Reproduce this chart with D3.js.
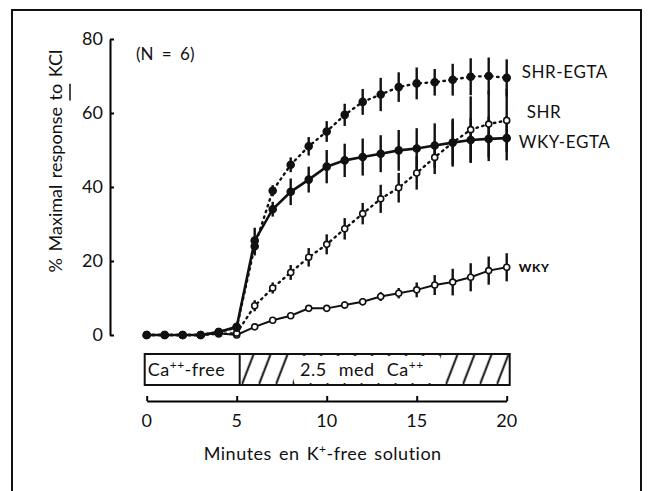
<!DOCTYPE html>
<html>
<head>
<meta charset="UTF-8">
<title>Minutes en K+-free solution</title>
<script src="https://cdn.jsdelivr.net/npm/d3@7"></script>
<style>
body { margin: 0; background: #fff; }
text { font-family: "Lato", "DejaVu Sans", sans-serif; fill: #111; }
</style>
</head>
<body>
<script>
// data
var minutes = [0,1,2,3,4,5,6,7,8,9,10,11,12,13,14,15,16,17,18,19,20];
var shrEgta    = [0,0,0,0,0.8,2,24,39,46,51,55,59.5,63,65,67,68,68.3,69,69.8,70,69.5];
var shrEgtaErr = [0,0,0,0,0,0,2.5,1.5,2,2.5,2.8,3,3.5,4.5,4,4.3,3.6,4.3,5,5,5];
var shr        = [0,0,0,0,0.3,0.5,7.9,12.7,16.9,21,24.5,28.7,32.8,36.8,39.8,43.8,48,52,55.5,57,58];
var shrErr     = [0,0,0,0,0,0,1.5,1.5,2,2.5,2.7,2.9,2.9,3.8,4,4.5,4.5,6,9,9,8.5];
var wkyEgta    = [0,0,0,0,0.8,2.2,25.5,34,38.7,42,45.5,47.2,48.1,49,49.9,50.4,51.2,52,52.7,53,53.2];
var wkyEgtaErr = [0,0,0,0,0,0,3.5,2,3.6,3.5,4.5,4.5,5,5,5.5,5.5,6,6.5,6,6,6];
var wky        = [0,0,0,0,0.5,0,2.2,4,5.2,7.2,7.2,8.1,9,10.4,11.3,12.2,13.5,14.3,15.6,17.4,18.3];
var wkyErr     = [0,0,0,0,0,0,0,0,0.5,0.8,0.8,1,1,1.2,1.4,2,2.7,3.6,3.8,3.8,3.8];
var yTicks = [0, 20, 40, 60, 80];
var xTicks = [0, 5, 10, 15, 20];

var Width = 651, Height = 491;
var svg = d3.select("body").append("svg")
    .attr("width", Width)
    .attr("height", Height);

var x = d3.scaleLinear().domain([0, 20]).range([146.7, 506.7]);
var y = d3.scaleLinear().domain([0, 80]).range([335, 39]);

// frame round the figure
svg.append("path")
    .attr("d", "M12,491 L12,10 L641,10 L641,491")
    .attr("fill", "none").attr("stroke", "#111").attr("stroke-width", 2);

// y axis, ticks point inward
var yAxis = svg.append("g")
    .attr("transform", "translate(110,0)")
    .call(d3.axisLeft(y).tickValues(yTicks).tickSize(-4).tickSizeOuter(0).tickPadding(7));
yAxis.select(".domain").attr("stroke-width", 2);
yAxis.selectAll("line").attr("stroke-width", 2);
yAxis.selectAll("text").attr("font-size", 18);

var ylab = svg.append("g")
    .attr("transform", "translate(62," + y(47) + ") rotate(-90)");
var ytxt = ylab.append("text")
    .attr("text-anchor", "middle")
    .attr("font-size", 18)
    .attr("word-spacing", 2)
    .text("% Maximal response to KCl");
// underline under "to"
var s = "% Maximal response to KCl".indexOf("to");
var p0 = ytxt.node().getStartPositionOfChar(s);
var p1 = ytxt.node().getEndPositionOfChar(s + 1);
ylab.append("line")
    .attr("x1", p0.x).attr("x2", p1.x)
    .attr("y1", 8).attr("y2", 8)
    .attr("stroke", "#111").attr("stroke-width", 1.5);

// x axis below the Ca bar
var xAxis = svg.append("g")
    .attr("transform", "translate(0,401)")
    .call(d3.axisTop(x).tickValues(xTicks).tickSize(5).tickSizeOuter(0));
xAxis.select(".domain").attr("stroke-width", 2);
xAxis.selectAll("line").attr("stroke-width", 2);
xAxis.selectAll("text").remove();
svg.selectAll(".xlab").data(xTicks).enter().append("text")
    .attr("class", "xlab")
    .attr("x", function(d){ return x(d); })
    .attr("y", 427)
    .attr("text-anchor", "middle")
    .attr("font-size", 18)
    .text(function(d){ return d; });

var xt = svg.append("text")
    .attr("x", x(10) - 4).attr("y", 460)
    .attr("text-anchor", "middle")
    .attr("font-size", 18)
    .attr("letter-spacing", 0.5)
    .attr("word-spacing", 2);
xt.append("tspan").text("Minutes en K");
xt.append("tspan").attr("baseline-shift", "super").attr("font-size", 12).text("+");
xt.append("tspan").text("-free solution");

// Ca bar
var barTop = 354, barH = 31;
var defs = svg.append("defs");
var pat = defs.append("pattern")
    .attr("id", "hatch")
    .attr("patternUnits", "userSpaceOnUse")
    .attr("x", x(5) + 5).attr("y", barTop)
    .attr("width", 17).attr("height", barH);
pat.append("line")
    .attr("x1", 0).attr("y1", barH).attr("x2", 12).attr("y2", 0)
    .attr("stroke", "#111").attr("stroke-width", 2);

svg.append("rect")
    .attr("x", x(5) + 3).attr("y", barTop)
    .attr("width", x(20) + 3 - x(5) - 3).attr("height", barH)
    .attr("fill", "url(#hatch)");
svg.append("rect")
    .attr("x", 294).attr("y", barTop + 2)
    .attr("width", 146).attr("height", barH - 4)
    .attr("fill", "#fff");
svg.append("rect")
    .attr("x", x(0) - 2).attr("y", barTop)
    .attr("width", x(20) + 5 - x(0)).attr("height", barH)
    .attr("fill", "none").attr("stroke", "#111").attr("stroke-width", 2);
svg.append("line")
    .attr("x1", x(5) + 3).attr("x2", x(5) + 3)
    .attr("y1", barTop).attr("y2", barTop + barH)
    .attr("stroke", "#111").attr("stroke-width", 2);

var t1 = svg.append("text").attr("x", x(0) + 1).attr("y", barTop + 22)
    .attr("font-size", 18).attr("letter-spacing", 0.5);
t1.append("tspan").text("Ca");
t1.append("tspan").attr("baseline-shift", "super").attr("font-size", 12).text("++");
t1.append("tspan").text("-free");
var t2 = svg.append("text").attr("x", 300).attr("y", barTop + 22)
    .attr("font-size", 18).attr("letter-spacing", 0.5).attr("word-spacing", 7);
t2.append("tspan").text("2.5 med Ca");
t2.append("tspan").attr("baseline-shift", "super").attr("font-size", 12).text("++");

// series
var series = [
    {name: "WKY",      v: wky,     e: wkyErr,     filled: false, dash: null,      w: 2},
    {name: "SHR",      v: shr,     e: shrErr,     filled: false, dash: "1.5,4.5", w: 2.4},
    {name: "WKY-EGTA", v: wkyEgta, e: wkyEgtaErr, filled: true,  dash: null,      w: 2.6},
    {name: "SHR-EGTA", v: shrEgta, e: shrEgtaErr, filled: true,  dash: "1.5,4.5", w: 2.4}
];

var line = d3.line()
    .x(function(d){ return x(d[0]); })
    .y(function(d){ return y(d[1]); });

function pts(s){
    return minutes.map(function(m, i){ return [m, s.v[i], s.e[i]]; });
}

series.forEach(function(s){
    svg.append("path")
        .datum(pts(s))
        .attr("d", line)
        .attr("fill", "none")
        .attr("stroke", "#111")
        .attr("stroke-width", s.w)
        .attr("stroke-linecap", "round")
        .attr("stroke-dasharray", s.dash);
});

series.forEach(function(s){
    svg.append("g").selectAll("line")
        .data(pts(s).filter(function(d){ return d[2] > 0; }))
        .enter().append("line")
        .attr("x1", function(d){ return x(d[0]); })
        .attr("x2", function(d){ return x(d[0]); })
        .attr("y1", function(d){ return y(d[1] - d[2]); })
        .attr("y2", function(d){ return y(d[1] + d[2]); })
        .attr("stroke", "#111")
        .attr("stroke-width", 2.4);
});

series.forEach(function(s){
    svg.append("g").selectAll("circle")
        .data(pts(s))
        .enter().append("circle")
        .attr("cx", function(d){ return x(d[0]); })
        .attr("cy", function(d){ return y(d[1]); })
        .attr("r", s.filled ? 3.5 : 3)
        .attr("fill", s.filled ? "#111" : "#fff")
        .attr("stroke", "#111")
        .attr("stroke-width", 1.6);
});

// series names at the right end
var labels = [
    {t: "SHR-EGTA", dx: 15, v: shrEgta[20], dy: 0,  size: 17, bold: false},
    {t: "SHR",      dx: 20, v: shr[20],     dy: -2, size: 17, bold: false},
    {t: "WKY-EGTA", dx: 12, v: wkyEgta[20], dy: 10, size: 17, bold: false},
    {t: "WKY",      dx: 12, v: wky[20],     dy: 5,  size: 12, bold: true}
];
svg.selectAll(".slab").data(labels).enter().append("text")
    .attr("class", "slab")
    .attr("x", function(d){ return x(20) + d.dx; })
    .attr("y", function(d){ return y(d.v) + d.dy; })
    .attr("font-size", function(d){ return d.size; })
    .attr("font-weight", function(d){ return d.bold ? "900" : "normal"; })
    .attr("letter-spacing", 0.6)
    .text(function(d){ return d.t; });

svg.append("text")
    .attr("x", 136).attr("y", 60)
    .attr("font-size", 17)
    .attr("word-spacing", 4)
    .text("(N = 6)");
</script>
</body>
</html>
